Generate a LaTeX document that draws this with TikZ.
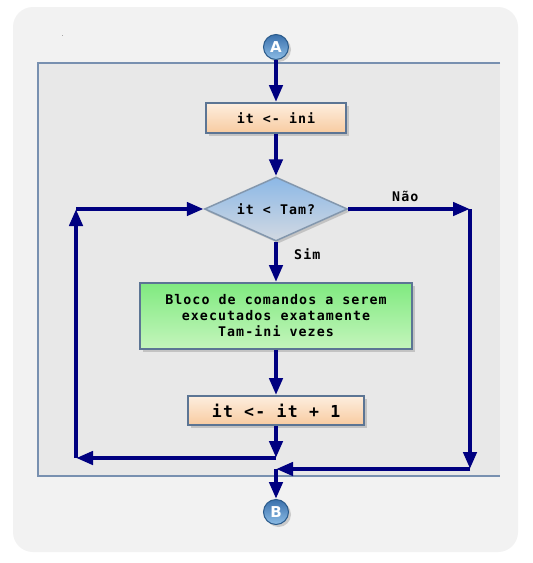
\documentclass[tikz,border=0pt]{standalone}
\usepackage{fontspec}
\setmonofont{DejaVu Sans Mono}
\newfontfamily\lblfont[LetterSpace=8]{DejaVu Sans Mono}
\newfontfamily\btnfont{DejaVu Sans}
\usetikzlibrary{arrows.meta,shapes.geometric,shadows}
\definecolor{navy}{HTML}{000080}
\definecolor{outerbg}{HTML}{F2F2F2}
\definecolor{innerbg}{HTML}{E8E8E8}
\definecolor{frameline}{HTML}{7890B0}
\definecolor{boxline}{HTML}{5C7594}
\definecolor{peachtop}{HTML}{FDEEDF}
\definecolor{peachbot}{HTML}{F8CBA0}
\definecolor{greentop}{HTML}{80EA80}
\definecolor{greenbot}{HTML}{C4F5BC}
\definecolor{diatop}{HTML}{8CB8E6}
\definecolor{diabot}{HTML}{D2D9E2}
\definecolor{dialine}{HTML}{8397AD}
\definecolor{btntop}{HTML}{3A70AC}
\definecolor{btnbot}{HTML}{8DBDE6}
\definecolor{btnline}{HTML}{2A5A8A}
\tikzset{
  arr/.style={draw=navy, line width=4.5pt, -{Triangle[length=17pt,width=13pt]}},
  boxshadow/.style={drop shadow={opacity=0.35, shadow xshift=2.5pt, shadow yshift=-2.5pt}},
  lbltext/.style={font=\lblfont\bfseries\fontsize{13.3}{16}\selectfont},
  procbox/.style={rectangle, draw=boxline, line width=1.8pt, top color=peachtop, bottom color=peachbot,
     inner sep=0pt, boxshadow, lbltext},
  bodybox/.style={rectangle, draw=boxline, line width=1.8pt, top color=greentop, bottom color=greenbot,
     inner sep=0pt, align=center, boxshadow, lbltext},
  decision/.style={diamond, aspect=2.23, draw=dialine, line width=1.5pt, top color=diatop, bottom color=diabot,
     inner sep=0pt, minimum width=143pt, minimum height=64pt, boxshadow, lbltext},
  button/.style={circle, draw=btnline, line width=1pt, top color=btntop, bottom color=btnbot,
     minimum size=25pt, inner sep=0pt, text=white, boxshadow,
     font=\btnfont\bfseries\fontsize{15}{15}\selectfont},
  edgelabel/.style={lbltext, inner sep=0pt}
}
\begin{document}
\begin{tikzpicture}[x=1pt,y=-1pt]
\useasboundingbox (0,0) rectangle (533,563);
\fill[white] (0,0) rectangle (533,563);
\fill[outerbg, rounded corners=20pt] (13,7) rectangle (518,552);
\fill[innerbg] (38,63) rectangle (500,476);
\draw[frameline, line width=1.2pt] (500,63) -- (38,63) -- (38,476) -- (500,476);
\fill[gray!70] (61.5,34.5) rectangle (63,35.5);

\node[button] (A) at (276,47) {A};
\node[procbox, minimum width=140pt, minimum height=30pt] (ini) at (276,118) {it <- ini};
\node[decision] (cond) at (276,209) {it < Tam?};
\node[bodybox, minimum width=272pt, minimum height=66pt] (body) at (276,316)
  {Bloco de comandos a serem\\executados exatamente\\Tam-ini vezes};
\node[procbox, minimum width=176pt, minimum height=29pt, font=\lblfont\bfseries\fontsize{16.5}{18}\selectfont] (inc) at (276,410.5) {it <- it + 1};
\node[button] (B) at (276,512) {B};

\coordinate (c1) at (276,458);
\coordinate (c2) at (76,458);
\coordinate (c3) at (76,209);
\coordinate (r1) at (470,209);
\coordinate (r2) at (470,469);
\coordinate (m) at (276,469);

\draw[arr] (A) -- (ini);
\draw[arr] (ini) -- (cond);
\draw[arr] (cond) -- (body);
\draw[arr] (body) -- (inc);
\draw[arr] (inc) -- (c1);
\draw[arr] (c1) -- (c2);
\draw[arr] (c2) -- (c3);
\draw[arr] (c3) -- (cond.west);
\draw[arr] (cond.east) -- (r1);
\draw[arr] (r1) -- (r2);
\draw[arr] (r2) -- (m);
\draw[arr] (m) -- (B);

\node[edgelabel, anchor=west] (sim) at (294,254) {Sim};
\node[edgelabel, anchor=west] (nao) at (392,196) {Não};
\end{tikzpicture}
\end{document}
